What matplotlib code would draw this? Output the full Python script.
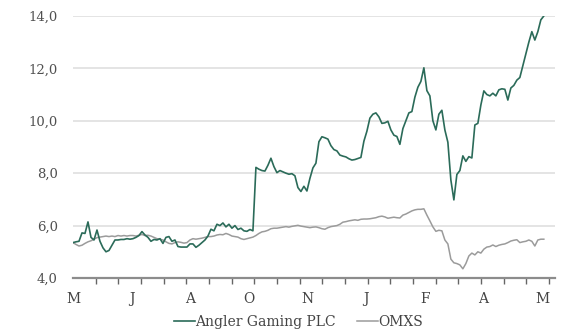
import numpy as np
import matplotlib
matplotlib.use('Agg')
import matplotlib.pyplot as plt

# Kursutveckling Angler Gaming PLC mot OMXS (SEK, indexerat)
angler = [
    5.35, 5.38, 5.40, 5.72, 5.70, 6.14, 5.55, 5.45, 5.83, 5.40,
    5.15, 5.00, 5.05, 5.25, 5.45, 5.45, 5.47, 5.47, 5.50, 5.48,
    5.50, 5.55, 5.62, 5.77, 5.64, 5.55, 5.40, 5.47, 5.45, 5.50,
    5.32, 5.55, 5.58, 5.40, 5.45, 5.20, 5.18, 5.18, 5.18, 5.30,
    5.30, 5.17, 5.25, 5.35, 5.45, 5.60, 5.86, 5.80, 6.05, 6.00,
    6.10, 5.95, 6.05, 5.90, 6.00, 5.85, 5.90, 5.80, 5.78, 5.85,
    5.80, 8.22, 8.15, 8.10, 8.08, 8.30, 8.57, 8.25, 8.02, 8.10,
    8.05, 8.00, 7.96, 7.98, 7.90, 7.45, 7.30, 7.50, 7.32, 7.80,
    8.20, 8.38, 9.20, 9.39, 9.35, 9.30, 9.05, 8.90, 8.85, 8.69,
    8.65, 8.62, 8.55, 8.50, 8.52, 8.56, 8.60, 9.22, 9.60, 10.10,
    10.25, 10.30, 10.15, 9.90, 9.92, 9.98, 9.65, 9.45, 9.40, 9.10,
    9.70, 10.00, 10.30, 10.35, 10.90, 11.28, 11.50, 12.02, 11.15, 10.95,
    10.00, 9.65, 10.25, 10.40, 9.65, 9.18, 7.74, 6.98, 7.95, 8.10,
    8.66, 8.45, 8.63, 8.58, 9.84, 9.90, 10.60, 11.14, 11.00, 10.95,
    11.05, 10.95, 11.18, 11.22, 11.20, 10.79, 11.25, 11.35, 11.55, 11.65,
    12.10, 12.55, 13.00, 13.40, 13.08, 13.40, 13.85, 14.00,
]
omxs = [
    5.35, 5.28, 5.22, 5.25, 5.32, 5.38, 5.42, 5.48, 5.54, 5.56,
    5.58, 5.60, 5.58, 5.60, 5.58, 5.62, 5.60, 5.62, 5.60, 5.62,
    5.62, 5.60, 5.63, 5.66, 5.62, 5.63, 5.60, 5.55, 5.50, 5.48,
    5.45, 5.38, 5.32, 5.30, 5.35, 5.38, 5.36, 5.33, 5.35, 5.45,
    5.50, 5.48, 5.50, 5.52, 5.55, 5.58, 5.58, 5.60, 5.64, 5.66,
    5.65, 5.70, 5.66, 5.60, 5.58, 5.56, 5.50, 5.47, 5.50, 5.53,
    5.56, 5.62, 5.70, 5.76, 5.78, 5.82, 5.88, 5.90, 5.90, 5.92,
    5.94, 5.96, 5.94, 5.97, 5.99, 6.01, 5.98, 5.96, 5.94, 5.92,
    5.94, 5.95, 5.92, 5.88, 5.86, 5.92, 5.96, 5.98, 6.00, 6.05,
    6.13, 6.15, 6.18, 6.20, 6.22, 6.20, 6.24, 6.25, 6.25, 6.26,
    6.28, 6.30, 6.34, 6.36, 6.33, 6.28, 6.30, 6.32, 6.30, 6.29,
    6.40, 6.44, 6.50, 6.56, 6.60, 6.62, 6.62, 6.64, 6.40, 6.18,
    5.95, 5.78, 5.82, 5.80, 5.45, 5.30, 4.72, 4.58, 4.55, 4.50,
    4.35, 4.55, 4.84, 4.95, 4.88, 5.00, 4.95, 5.10, 5.18, 5.20,
    5.26, 5.20, 5.25, 5.28, 5.30, 5.35, 5.41, 5.44, 5.46, 5.35,
    5.38, 5.40, 5.45, 5.40, 5.22, 5.45, 5.48, 5.48,
]
month_labels = ['M', 'J', 'A', 'O', 'N', 'J', 'F', 'A', 'M']
y_ticks = [4, 6, 8, 10, 12, 14]

GREEN = '#2b6b59'
GREY = '#9b9b9b'
TEXT = '#505050'
FONT = 'DejaVu Serif'

x = np.arange(len(angler))

fig = plt.figure(figsize=(5.68, 3.32), dpi=100)
ax = fig.add_axes([0.1285, 0.1627, 0.8485, 0.7893])

ax.plot(x, omxs, color=GREY, lw=1.1, label='OMXS', zorder=3)
ax.plot(x, angler, color=GREEN, lw=1.2, label='Angler Gaming PLC', zorder=4)

ax.set_xlim(0, 160.7)
ax.set_ylim(4, 14)

# y-axel: rutnät och etiketter med decimalkomma
ax.set_yticks(y_ticks)
ax.set_yticklabels([f'{v:.1f}'.replace('.', ',') for v in y_ticks],
                   fontfamily=FONT, fontsize=9.5, color=TEXT)
ax.tick_params(axis='y', length=0, pad=11)
ax.grid(axis='y', color='#dcdcdc', lw=1.1, zorder=0)

# x-axel: täta streck, glesare månadsbokstäver
minor_pos = np.arange(22) * 22.667 / 3
major_pos = np.arange(len(month_labels)) * 58.66 / 3
ax.set_xticks(minor_pos, minor=True)
ax.set_xticks(major_pos)
ax.set_xticklabels(month_labels, fontfamily=FONT, fontsize=10, color='#444444')
ax.tick_params(axis='x', which='major', length=0, pad=10)
ax.tick_params(axis='x', which='minor', length=4, width=1, color='#666666')

for side in ['top', 'right', 'left']:
    ax.spines[side].set_visible(False)
ax.spines['bottom'].set_color('#8c8c8c')
ax.spines['bottom'].set_linewidth(1.6)
ax.spines['bottom'].set_zorder(5)

handles, labels = ax.get_legend_handles_labels()
fig.legend(handles[::-1], labels[::-1], loc='center', ncol=2,
           bbox_to_anchor=(0.5255, 0.030), frameon=False,
           prop={'family': FONT, 'size': 10}, labelcolor='#444444',
           handlelength=1.5, handletextpad=0.05, columnspacing=1.5,
           borderpad=0, borderaxespad=0)

fig.savefig('out.png', dpi=100, facecolor='white')
